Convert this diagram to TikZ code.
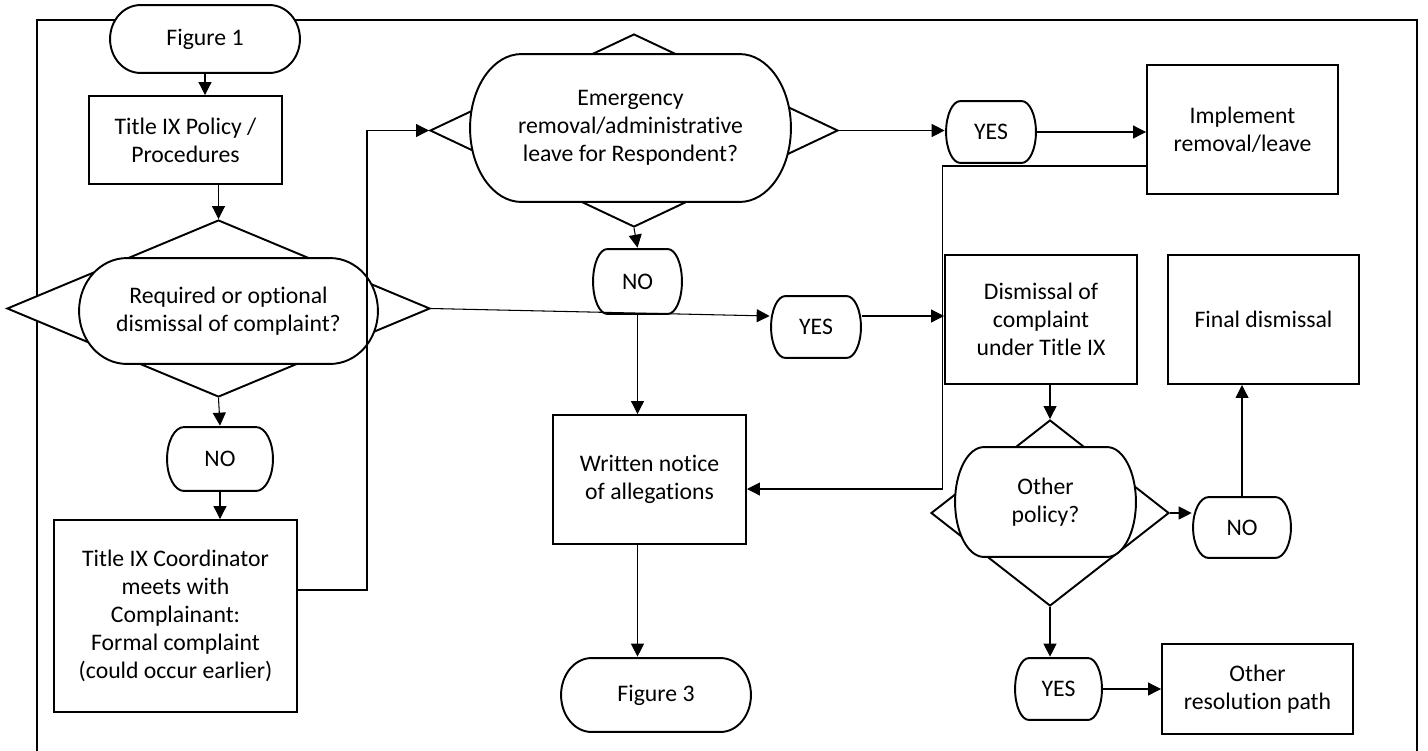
\documentclass[tikz,border=0pt]{standalone}
\usepackage{fontspec}
\setmainfont[Ligatures=NoCommon]{Carlito}
\usetikzlibrary{positioning,arrows.meta,shapes.geometric,calc}

\begin{document}
\begin{tikzpicture}[font=\fontsize{13.5}{16}\selectfont,
  procbox/.style={draw,line width=1.1pt,fill=white,align=center,inner sep=0pt},
  termbox/.style={align=center,inner sep=0pt,path picture={
    \draw[line width=1.1pt,fill=white]
      let \p1=($(path picture bounding box.south west)+(0.6pt,0.6pt)$),
          \p2=($(path picture bounding box.north east)-(0.6pt,0.6pt)$),
          \n1={0.16*(\x2-\x1)}, \n2={(\y2-\y1)/2}
      in (\x1+\n1,\y1) -- (\x2-\n1,\y1)
         arc[start angle=-90,end angle=90,x radius=\n1,y radius=\n2]
         -- (\x1+\n1,\y2)
         arc[start angle=90,end angle=270,x radius=\n1,y radius=\n2] -- cycle;}},
  answerbox/.style={termbox,minimum width=1.84cm,minimum height=1.28cm},
  decdiam/.style={draw,diamond,line width=1.1pt,fill=white,inner sep=0pt},
  arr/.style={-{Triangle[length=2.6mm,width=2.6mm]},line width=0.6pt}]

\useasboundingbox (0,0) rectangle (28.56,-15);
% outer frame
\draw[line width=1.1pt] (0.74,-15.3) -- (0.74,-0.40) -- (28.34,-0.40) -- (28.34,-15.3);

% left column
\node[termbox,minimum width=3.84cm,minimum height=1.40cm] (fig1) at (4.10,-0.78) {Figure 1};
\node[procbox,minimum width=3.86cm,minimum height=1.76cm] (policy) at (3.71,-2.80) {Title IX Policy /\\Procedures};
\node[decdiam,minimum width=8.46cm,minimum height=3.54cm] (dec1) at (4.37,-6.17) {};
\node[termbox,minimum width=6.02cm,minimum height=2.16cm] (dec1q) at (4.57,-6.22)
  {Required or optional\\dismissal of complaint?};
\node[answerbox,minimum width=2.16cm,minimum height=1.32cm] (no1) at (4.40,-9.18) {NO};
\node[procbox,minimum width=4.86cm,minimum height=3.84cm] (coord) at (3.51,-12.32)
  {Title IX Coordinator\\meets with\\Complainant:\\Formal complaint\\(could occur earlier)};

% middle column
\node[decdiam,minimum width=8.16cm,minimum height=3.86cm] (dec2) at (12.68,-2.61) {};
\node[termbox,minimum width=6.46cm,minimum height=3.00cm] (dec2q) at (12.61,-2.56)
  {Emergency\\removal/administrative\\leave for Respondent?};
\node[answerbox,minimum width=1.82cm,minimum height=1.34cm] (no2) at (12.75,-5.63) {NO};
\node[answerbox] (yes2) at (16.32,-6.54) {YES};
\node[procbox,minimum width=3.86cm,minimum height=2.58cm] (notice) at (12.99,-9.59) {Written notice\\of allegations};
\node[termbox,minimum width=3.84cm,minimum height=1.52cm] (fig3) at (13.12,-13.90) {Figure 3};

% right part
\node[answerbox] (yes1) at (19.82,-2.64) {YES};
\node[procbox,minimum width=3.82cm,minimum height=2.58cm] (implement) at (24.85,-2.59) {Implement\\removal/leave};
\node[procbox,minimum width=3.84cm,minimum height=2.58cm] (dismiss) at (20.82,-6.39) {Dismissal of\\complaint\\under Title IX};
\node[procbox,minimum width=3.82cm,minimum height=2.58cm] (final) at (25.27,-6.39) {Final dismissal};
\node[decdiam,minimum width=4.76cm,minimum height=3.72cm] (dec3) at (21.00,-10.26) {};
\node[termbox,minimum width=3.66cm,minimum height=2.24cm] (dec3q) at (20.91,-10.04) {Other\\policy?};
\node[answerbox,minimum width=2.00cm,minimum height=1.26cm] (no3) at (24.84,-10.55) {NO};
\node[answerbox,minimum width=1.78cm] (yes3) at (21.17,-13.78) {YES};
\node[procbox,minimum width=3.82cm,minimum height=1.80cm] (other) at (25.15,-13.78) {Other\\resolution path};

% connectors
\draw[arr] (fig1.south) -- (fig1.south |- policy.north);
\draw[arr] (dec1.north |- policy.south) -- (dec1.north);
\draw[arr] (dec1.south) -- (no1.north);
\draw[arr] (no1.south) -- (no1.south |- coord.north);
\draw[arr] ([yshift=0.52cm]coord.east) -- ++(1.38,0) |- (dec2.west);
\draw[arr] (dec1.east) -- ([yshift=0.22cm]yes2.west);
\draw[arr] ([yshift=0.22cm]yes2.east) -- ([yshift=0.22cm]yes2.east -| dismiss.west);
\draw[arr] (dec2.east) -- (dec2.east -| yes1.west);
\draw[arr] (yes1.east) -- (yes1.east -| implement.west);
\draw[arr] ([yshift=-0.73cm]implement.west) -- ++(-4.08,0) |- ([yshift=-0.19cm]notice.east);
\draw[arr] (dec2.south) -- (no2.north);
\draw[arr] (no2.south) -- (no2.south |- notice.north);
\draw[arr] (no2.south |- notice.south) -- (no2.south |- fig3.north);
\draw[arr] (dec3.north |- dismiss.south) -- (dec3.north);
\draw[arr] (dec3.east) -- (dec3.east -| no3.west);
\draw[arr] (no3.north) -- (no3.north |- final.south);
\draw[arr] (dec3.south) -- (dec3.south |- yes3.north);
\draw[arr] (yes3.east) -- (yes3.east -| other.west);

\end{tikzpicture}
\end{document}
